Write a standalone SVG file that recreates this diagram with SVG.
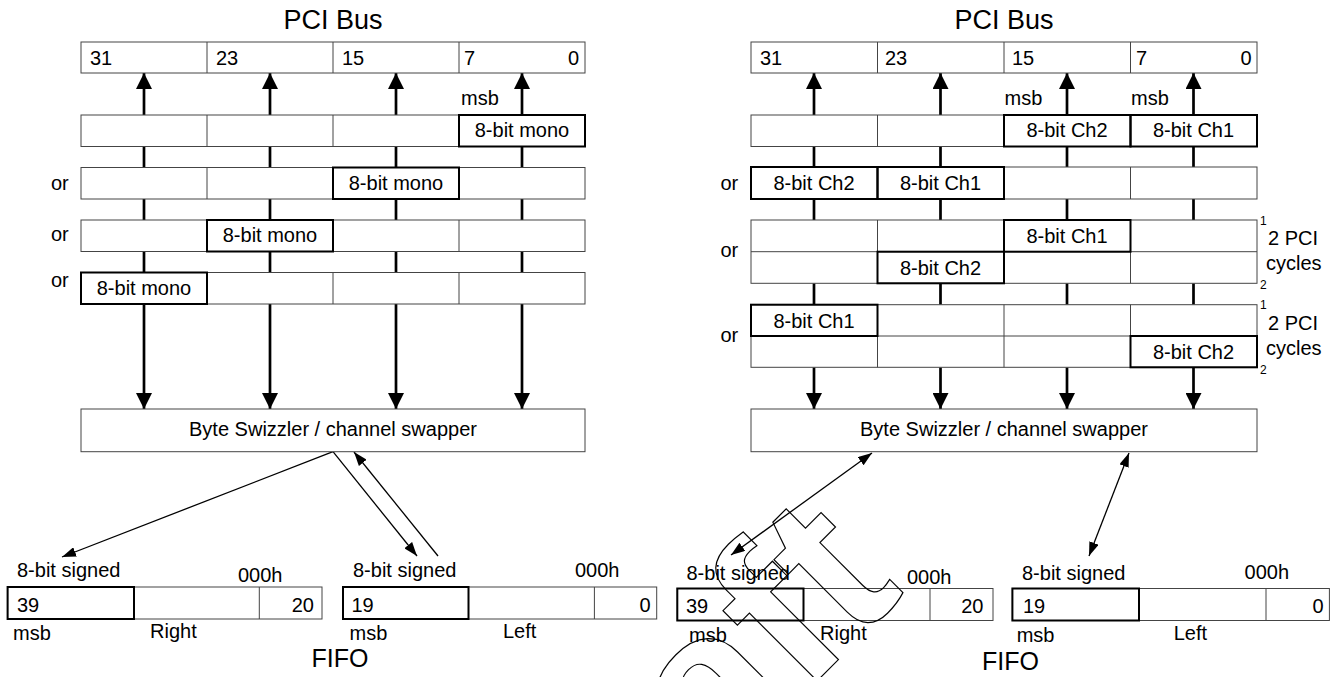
<svg xmlns="http://www.w3.org/2000/svg" width="1338" height="677" viewBox="0 0 1338 677">
<defs>
<style>
text{font-family:"Liberation Sans",Arial,Helvetica,sans-serif;font-size:20px;fill:#000}
.ttl{font-size:27px}
.fifo{font-size:25px}
.sup{font-size:12px}
.c{text-anchor:middle}
.e{text-anchor:end}
.cell{fill:#fff;stroke:#444;stroke-width:1}
.ln{fill:none;stroke:#444;stroke-width:1}
.hl{fill:none;stroke:#000;stroke-width:2}
.conn{stroke:#000;stroke-width:2.7;fill:none}
.up{marker-end:url(#big)}
.thin{stroke:#000;stroke-width:1.3;fill:none}
.wm{font-family:"Liberation Sans",Arial,sans-serif;font-weight:bold;font-size:220px;fill:none;stroke:#000;stroke-width:1.2}
</style>
<marker id="big" viewBox="0 0 16 16" refX="16" refY="8" markerWidth="16" markerHeight="16" markerUnits="userSpaceOnUse" orient="auto"><path d="M0,0 L16,8 L0,16 z" fill="#000"/></marker>
<marker id="sm" viewBox="0 0 14 10" refX="14" refY="5" markerWidth="14" markerHeight="10" markerUnits="userSpaceOnUse" orient="auto"><path d="M0,0 L14,5 L0,10 z" fill="#000"/></marker>
<marker id="sms" viewBox="0 0 14 10" refX="0" refY="5" markerWidth="14" markerHeight="10" markerUnits="userSpaceOnUse" orient="auto"><path d="M14,0 L0,5 L14,10 z" fill="#000"/></marker>
</defs>
<rect width="1338" height="677" fill="#fff"/>

<!-- connectors -->
<g id="connectors">
<g class="conn">
<line x1="144" y1="115" x2="144" y2="73" class="up"/>
<line x1="270" y1="115" x2="270" y2="73" class="up"/>
<line x1="396" y1="115" x2="396" y2="73" class="up"/>
<line x1="522" y1="115" x2="522" y2="73" class="up"/>
<path d="M144,146V168M270,146V168M396,146V168M522,146V168M144,199V220M270,199V220M396,199V220M522,199V220M144,251V273M270,251V273M396,251V273M522,251V273"/>
<line x1="144" y1="304" x2="144" y2="409" class="up"/>
<line x1="270" y1="304" x2="270" y2="409" class="up"/>
<line x1="396" y1="304" x2="396" y2="409" class="up"/>
<line x1="522" y1="304" x2="522" y2="409" class="up"/>

<line x1="814" y1="115" x2="814" y2="73" class="up"/>
<line x1="940.5" y1="115" x2="940.5" y2="73" class="up"/>
<line x1="1067" y1="115" x2="1067" y2="73" class="up"/>
<line x1="1193.5" y1="115" x2="1193.5" y2="73" class="up"/>
<path d="M814,146V167M940.5,146V167M1067,146V167M1193.5,146V167M814,199V220M940.5,199V220M1067,199V220M1193.5,199V220M814,283.3V304.7M940.5,283.3V304.7M1067,283.3V304.7M1193.5,283.3V304.7"/>
<line x1="814" y1="367.3" x2="814" y2="409" class="up"/>
<line x1="940.5" y1="367.3" x2="940.5" y2="409" class="up"/>
<line x1="1067" y1="367.3" x2="1067" y2="409" class="up"/>
<line x1="1193.5" y1="367.3" x2="1193.5" y2="409" class="up"/>
</g>
<g class="thin">
<line x1="333" y1="451.7" x2="62" y2="557" marker-end="url(#sm)"/>
<line x1="333" y1="451.7" x2="417" y2="556" marker-end="url(#sm)"/>
<line x1="438" y1="556" x2="354" y2="452" marker-end="url(#sm)"/>
<line x1="872" y1="453" x2="731" y2="555" marker-start="url(#sms)" marker-end="url(#sm)"/>
<line x1="1129" y1="453" x2="1089" y2="556" marker-start="url(#sms)" marker-end="url(#sm)"/>
</g>
</g>

<!-- LEFT PANEL -->
<g id="left-bus">
<text class="ttl c" x="333" y="28.5">PCI Bus</text>
<rect class="cell" x="81" y="42" width="504" height="31"/>
<path class="ln" d="M207,42V73M333,42V73M459,42V73"/>
<text x="90" y="65">31</text><text x="216" y="65">23</text><text x="342" y="65">15</text><text x="464" y="65">7</text><text class="e" x="579" y="65">0</text>
</g>
<text x="461" y="105">msb</text>
<g id="left-row1">
<rect class="cell" x="81" y="115" width="504" height="31.5"/>
<path class="ln" d="M207,115V146.5M333,115V146.5M459,115V146.5"/>
<rect class="hl" x="459" y="115" width="126" height="31.5"/>
<text class="c" x="522" y="137">8-bit mono</text>
</g>
<g id="left-row2">
<text x="51" y="190">or</text>
<rect class="cell" x="81" y="167.5" width="504" height="31.5"/>
<path class="ln" d="M207,167.5V199M333,167.5V199M459,167.5V199"/>
<rect class="hl" x="333" y="167.5" width="126" height="31.5"/>
<text class="c" x="396" y="189.5">8-bit mono</text>
</g>
<g id="left-row3">
<text x="51" y="241">or</text>
<rect class="cell" x="81" y="220" width="504" height="31.5"/>
<path class="ln" d="M207,220V251.5M333,220V251.5M459,220V251.5"/>
<rect class="hl" x="207" y="220" width="126" height="31.5"/>
<text class="c" x="270" y="242">8-bit mono</text>
</g>
<g id="left-row4">
<text x="51" y="287">or</text>
<rect class="cell" x="81" y="272.5" width="504" height="31.5"/>
<path class="ln" d="M207,272.5V304M333,272.5V304M459,272.5V304"/>
<rect class="hl" x="81" y="272.5" width="126" height="31.5"/>
<text class="c" x="144" y="294.5">8-bit mono</text>
</g>
<g id="left-swizzler">
<rect class="cell" x="81" y="409" width="504" height="42.7"/>
<text class="c" x="333" y="436">Byte Swizzler / channel swapper</text>
</g>
<g id="left-fifo-right">
<text x="17" y="577">8-bit signed</text>
<text x="238" y="582">000h</text>
<rect class="cell" x="7.6" y="587" width="314.4" height="32"/>
<path class="ln" d="M259.3,587V619"/>
<rect class="hl" x="7.6" y="587" width="126.4" height="32"/>
<text x="17" y="612">39</text>
<text class="e" x="314" y="612">20</text>
<text x="13" y="640">msb</text>
<text x="150" y="638">Right</text>
</g>
<g id="left-fifo-left">
<text x="353" y="577">8-bit signed</text>
<text x="575" y="577">000h</text>
<rect class="cell" x="343" y="587" width="313.7" height="32"/>
<path class="ln" d="M594.4,587V619"/>
<rect class="hl" x="343" y="587" width="125.5" height="32"/>
<text x="351.5" y="612">19</text>
<text class="e" x="650.5" y="612">0</text>
<text x="349.5" y="640">msb</text>
<text x="503" y="638">Left</text>
</g>
<text class="fifo" x="311.5" y="667">FIFO</text>

<!-- RIGHT PANEL -->
<g id="right-bus">
<text class="ttl c" x="1004" y="28.5">PCI Bus</text>
<rect class="cell" x="751" y="42" width="506" height="31"/>
<path class="ln" d="M877.5,42V73M1004,42V73M1130.5,42V73"/>
<text x="760" y="65">31</text><text x="885" y="65">23</text><text x="1012" y="65">15</text><text x="1136" y="65">7</text><text class="e" x="1251.5" y="65">0</text>
</g>
<text x="1004.5" y="105">msb</text>
<text x="1131" y="105">msb</text>
<g id="right-row1">
<rect class="cell" x="751" y="115" width="506" height="31.5"/>
<path class="ln" d="M877.5,115V146.5M1004,115V146.5M1130.5,115V146.5"/>
<rect class="hl" x="1004" y="115" width="126.5" height="31.5"/>
<rect class="hl" x="1130.5" y="115" width="126.5" height="31.5"/>
<text class="c" x="1067" y="137">8-bit Ch2</text>
<text class="c" x="1193.5" y="137">8-bit Ch1</text>
</g>
<g id="right-row2">
<text x="720.5" y="190">or</text>
<rect class="cell" x="751" y="167" width="506" height="32"/>
<path class="ln" d="M877.5,167V199M1004,167V199M1130.5,167V199"/>
<rect class="hl" x="751" y="167" width="126.5" height="32"/>
<rect class="hl" x="877.5" y="167" width="126.5" height="32"/>
<text class="c" x="814" y="189.5">8-bit Ch2</text>
<text class="c" x="940.5" y="189.5">8-bit Ch1</text>
</g>
<g id="right-row3">
<text x="720.5" y="257">or</text>
<rect class="cell" x="751" y="220" width="506" height="63.3"/>
<path class="ln" d="M751,251.7H1257M877.5,220V283.3M1004,220V283.3M1130.5,220V283.3"/>
<rect class="hl" x="1004" y="220" width="126.5" height="31.7"/>
<rect class="hl" x="877.5" y="251.7" width="126.5" height="31.6"/>
<text class="c" x="1067" y="243">8-bit Ch1</text>
<text class="c" x="940.5" y="274.5">8-bit Ch2</text>
<text class="sup" x="1260" y="225">1</text>
<text x="1268" y="245">2 PCI</text>
<text x="1266" y="270">cycles</text>
<text class="sup" x="1260" y="288.5">2</text>
</g>
<g id="right-row4">
<text x="720.5" y="342">or</text>
<rect class="cell" x="751" y="304.7" width="506" height="62.6"/>
<path class="ln" d="M751,336H1257M877.5,304.7V367.3M1004,304.7V367.3M1130.5,304.7V367.3"/>
<rect class="hl" x="751" y="304.7" width="126.5" height="31.3"/>
<rect class="hl" x="1130.5" y="336" width="126.5" height="31.3"/>
<text class="c" x="814" y="327.5">8-bit Ch1</text>
<text class="c" x="1193.5" y="358.5">8-bit Ch2</text>
<text class="sup" x="1260" y="308.5">1</text>
<text x="1268" y="330">2 PCI</text>
<text x="1266" y="355">cycles</text>
<text class="sup" x="1260" y="373.5">2</text>
</g>
<g id="right-swizzler">
<rect class="cell" x="751" y="409" width="506" height="42.7"/>
<text class="c" x="1004" y="436">Byte Swizzler / channel swapper</text>
</g>
<g id="right-fifo-right">
<text x="686.5" y="580">8-bit signed</text>
<text x="907" y="583.5">000h</text>
<rect class="cell" x="677.3" y="588.5" width="315.7" height="32"/>
<path class="ln" d="M930,588.5V620.5"/>
<rect class="hl" x="677.3" y="588.5" width="126.2" height="32"/>
<text x="686" y="613">39</text>
<text class="e" x="983.5" y="613">20</text>
<text x="689" y="642">msb</text>
<text x="820" y="640">Right</text>
</g>
<g id="right-fifo-left">
<text x="1022" y="579.5">8-bit signed</text>
<text x="1244.6" y="579">000h</text>
<rect class="cell" x="1012.4" y="588.5" width="317" height="32"/>
<path class="ln" d="M1266,588.5V620.5"/>
<rect class="hl" x="1012.4" y="588.5" width="126.6" height="32"/>
<text x="1023" y="613">19</text>
<text class="e" x="1323.7" y="613">0</text>
<text x="1016.7" y="642">msb</text>
<text x="1173.7" y="640">Left</text>
</g>
<text class="fifo" x="982" y="670">FIFO</text>

<!-- watermark -->
<text class="wm" text-anchor="end" transform="translate(906,592) rotate(-45)">Draft</text>
</svg>
